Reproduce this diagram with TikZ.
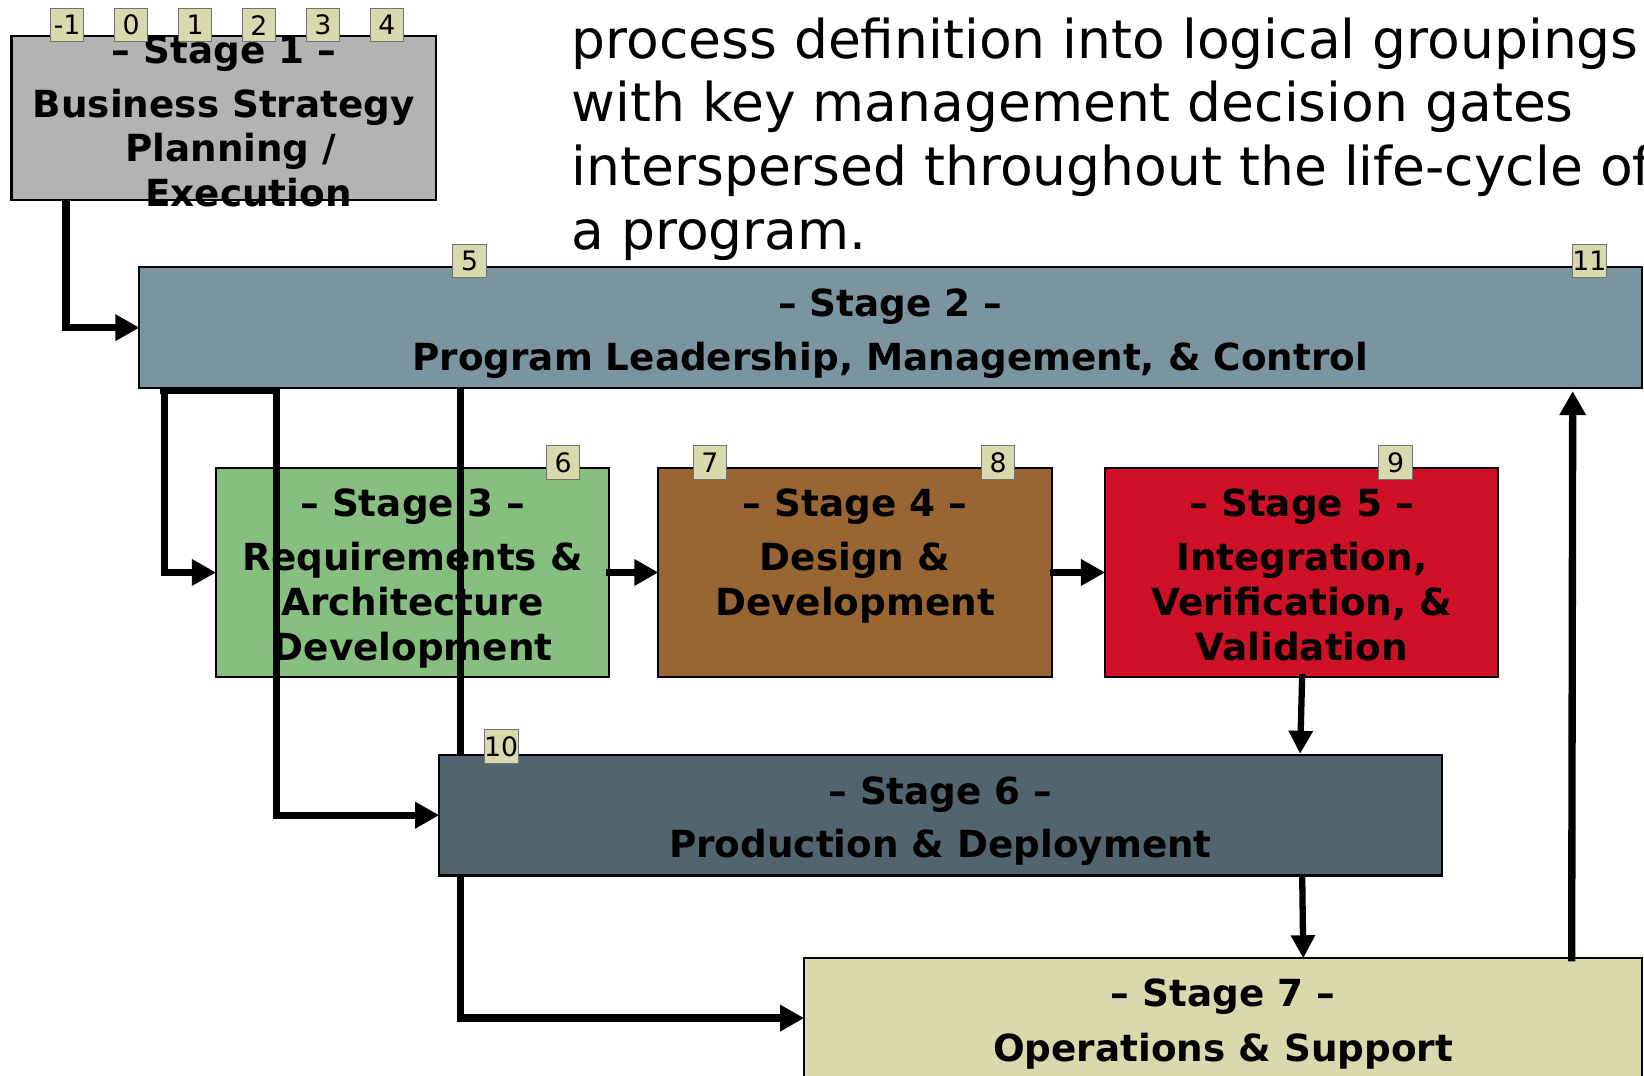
\documentclass[tikz,border=0pt]{standalone}
\usepackage{fontspec}
\setmainfont{DejaVu Sans}
\usetikzlibrary{arrows.meta,calc}
\definecolor{cone}{HTML}{B3B3B3}
\definecolor{ctwo}{HTML}{7B95A0}
\definecolor{cthree}{HTML}{86BF80}
\definecolor{cfour}{HTML}{996633}
\definecolor{cfive}{HTML}{CF1127}
\definecolor{csix}{HTML}{52656E}
\definecolor{cseven}{HTML}{DAD9AD}
\definecolor{cgate}{HTML}{D9D9AE}
\begin{document}
\begin{tikzpicture}[x=1pt,y=-1pt,
  stagebox/.style={draw=black,line width=2pt,inner sep=0pt,outer sep=0pt,anchor=north west},
  ttl/.style={anchor=base,inner sep=0pt,font=\fontsize{35.6}{42.5}\selectfont\bfseries},
  gate/.style={draw=black!55,fill=cgate,line width=1pt,minimum size=32pt,inner sep=0pt,font=\fontsize{25.5}{30}\selectfont},
  conn/.style={line width=7pt,line join=miter,-{Triangle[length=23pt,width=24pt]}},
  connv/.style={line width=6pt,line join=miter,-{Triangle[length=22pt,width=22pt]}},
  para/.style={anchor=base west,inner sep=0pt,font=\fontsize{51}{61}\selectfont}]
\useasboundingbox (0,0) rectangle (1568,1026);

% paragraph
\node[para] (p1) at (545,55.5) {process definition into logical groupings};
\node[para] (p2) at (545,116.2) {with key management decision gates};
\node[para] (p3) at (545,176.9) {interspersed throughout the life-cycle of};
\node[para] (p4) at (545,237.6) {a program.};

% stage boxes
\node[stagebox,fill=cone,minimum width=405pt,minimum height=157pt] (s1) at (11,34) {};
\node[ttl] (s1a) at (213.5,61) {– Stage 1 –};
\node[ttl] (s1b) at (213.5,112) {Business Strategy};
\node[ttl] (s1c) at (220,154.5) {Planning /};
\node[ttl] (s1d) at (237,197) {Execution};

\node[stagebox,fill=ctwo,minimum width=1433pt,minimum height=115pt] (s2) at (133,255) {};
\node[ttl] (s2a) at (849,302) {– Stage 2 –};
\node[ttl] (s2b) at (849,353) {Program Leadership, Management, \& Control};

\node[stagebox,fill=cthree,minimum width=375pt,minimum height=200pt] (s3) at (206,446) {};
\node[ttl] (s3a) at (393.5,493) {– Stage 3 –};
\node[ttl] (s3b) at (393.5,544) {Requirements \&};
\node[ttl] (s3c) at (393.5,587) {Architecture};
\node[ttl] (s3d) at (393.5,629.5) {Development};

\node[stagebox,fill=cfour,minimum width=375pt,minimum height=200pt] (s4) at (628,446) {};
\node[ttl] (s4a) at (815.5,493) {– Stage 4 –};
\node[ttl] (s4b) at (815.5,544) {Design \&};
\node[ttl] (s4c) at (815.5,587) {Development};

\node[stagebox,fill=cfive,minimum width=375pt,minimum height=200pt] (s5) at (1054,446) {};
\node[ttl] (s5a) at (1241.5,493) {– Stage 5 –};
\node[ttl] (s5b) at (1241.5,544) {Integration,};
\node[ttl] (s5c) at (1241.5,587) {Verification, \&};
\node[ttl] (s5d) at (1241.5,629.5) {Validation};

\node[stagebox,fill=cseven,minimum width=799pt,minimum height=114pt] (s7) at (767,914) {};
\node[ttl] (s7a) at (1166.5,960) {– Stage 7 –};
\node[ttl] (s7b) at (1166.5,1012) {Operations \& Support};

% connectors drawn beneath stage 6
\draw[conn] ($(s1.south west)+(52,0)$) |- (s2.west);
\draw[conn] ($(s2.south west)+(24,2.5)$) |- (s3.west);
\draw[conn] ($(s2.south west)+(306,0)$) |- (s7.west);
\draw[conn] ($(s3.east)+(-3,0)$) -- (s4.west);
\draw[conn] ($(s4.east)+(-2,0)$) -- (s5.west);
\draw[conn] ($(s7.north west)+(732,3)$) -- ($(s2.south west)+(1367,3)$);

% stage 6
\node[stagebox,fill=csix,minimum width=956pt,minimum height=115pt] (s6) at (419,720) {};
\node[ttl] (s6a) at (897,767) {– Stage 6 –};
\node[ttl] (s6b) at (897,818) {Production \& Deployment};

\draw[conn] ($(s2.south west)+(20,2.5)$) -- ($(s2.south west)+(131,2.5)$) |- (s6.west);
\draw[connv] ($(s5.south)+(0.5,-3)$) -- ($(s6.north west)+(821,-1)$);
\draw[connv] ($(s6.south west)+(823,0)$) -- ($(s7.north west)+(476,0)$);

% gates
\node[gate] (gm1) at (64,24) {-1};
\node[gate] (g0) at (125,24) {0};
\node[gate] (g1) at (186,24) {1};
\node[gate] (g2) at (247,24) {2};
\node[gate] (g3) at (308,24) {3};
\node[gate] (g4) at (369,24) {4};
\node[gate] (g5) at (448,249) {5};
\node[gate] (g11) at (1516,249) {11};
\node[gate] (g6) at (537,441) {6};
\node[gate] (g7) at (677,441) {7};
\node[gate] (g8) at (952,441) {8};
\node[gate] (g9) at (1331,441) {9};
\node[gate] (g10) at (478,712) {10};
\end{tikzpicture}
\end{document}
